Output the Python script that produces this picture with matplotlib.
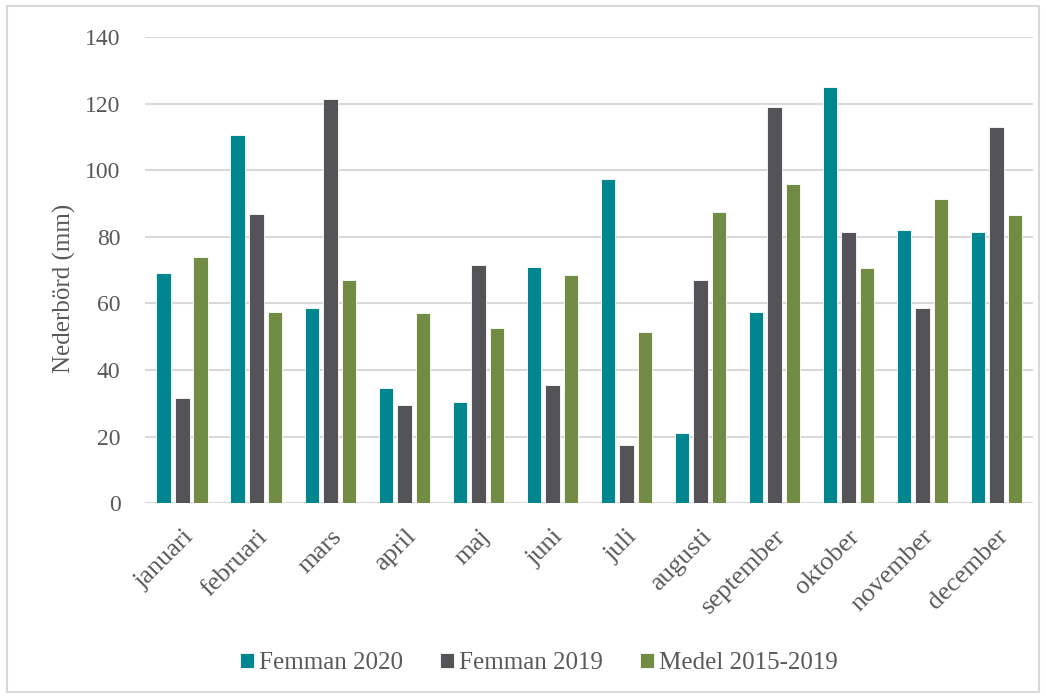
import numpy as np
import matplotlib.pyplot as plt
from matplotlib.patches import Rectangle

# månader och nederbörd (mm)
months = ['januari', 'februari', 'mars', 'april', 'maj', 'juni', 'juli',
          'augusti', 'september', 'oktober', 'november', 'december']
femman_2020 = [69, 110.5, 58.5, 34.5, 30.5, 71, 97.5, 21, 57.5, 125, 82, 81.5]
femman_2019 = [31.5, 87, 121.5, 29.5, 71.5, 35.5, 17.5, 67, 119, 81.5, 58.5, 113]
medel = [74, 57.5, 67, 57, 52.5, 68.5, 51.5, 87.5, 96, 70.5, 91.5, 86.5]
series_names = ['Femman 2020', 'Femman 2019', 'Medel 2015-2019']
y_ticks = [0, 20, 40, 60, 80, 100, 120, 140]

colors = ['#00868f', '#545458', '#738c45']
text_col = '#595959'

plt.rcParams['font.family'] = ['Liberation Serif', 'DejaVu Serif']

fig = plt.figure(figsize=(10.46, 6.98), dpi=100)
ax = fig.add_axes([0.139, 0.279, 0.849, 0.668])

x = np.arange(len(months))
w = 0.2
for i, (vals, name) in enumerate(zip([femman_2020, femman_2019, medel], series_names)):
    ax.bar(x + (i - 1) * 0.25, vals, w, color=colors[i], label=name,
           edgecolor='white', linewidth=0.6, zorder=3)

ax.set_xlim(-0.5, len(months) - 0.5)
ax.set_ylim(0, 140)
ax.set_yticks(y_ticks)
ax.grid(axis='y', color='#d9d9d9', linewidth=1.5, zorder=0)
for s in ax.spines.values():
    s.set_visible(False)
ax.tick_params(length=0, labelsize=17, colors=text_col)
ax.tick_params(axis='y', pad=18)
ax.set_xticks(x)
ax.set_xticklabels(months, rotation=45, ha='right', va='top', rotation_mode='anchor',
                   fontsize=19)
ax.tick_params(axis='x', pad=16)
ax.set_ylabel('Nederbörd (mm)', fontsize=18, color=text_col)
ax.yaxis.set_label_coords(-0.078, 0.46)

leg = fig.legend(loc='center', bbox_to_anchor=(0.515, 0.05), ncol=3, frameon=False,
                 fontsize=18, handlelength=0.55, handleheight=0.55, handletextpad=0.2,
                 columnspacing=1.5)
for t in leg.get_texts():
    t.set_color(text_col)

# ram runt diagrammet
fig.patches.append(Rectangle((0.007, 0.009), 0.986, 0.982, transform=fig.transFigure,
                             fill=False, edgecolor='#d9d9d9', linewidth=1.5))

fig.savefig('out.png', dpi=100)
